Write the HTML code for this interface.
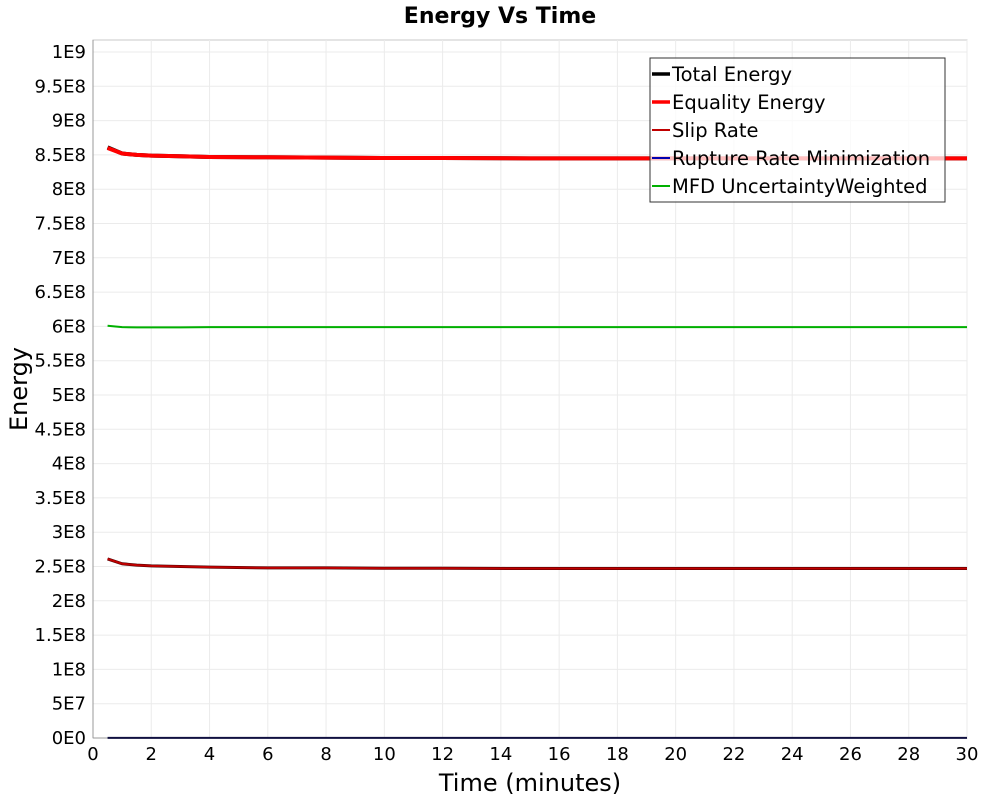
<!DOCTYPE html>
<html><head><meta charset="utf-8"><style>
body{margin:0;background:#fff;}
svg{font-family:"DejaVu Sans","Liberation Sans",sans-serif;}
</style></head><body>
<svg id="chart" width="1000" height="800">
<text x="500" y="23" text-anchor="middle" font-size="22" font-weight="bold">Energy Vs Time</text>
<g id="grid"></g>
<g id="axes"></g>
<g id="series"></g>
<text x="530" y="791" text-anchor="middle" font-size="24">Time (minutes)</text>
<text x="27" y="389" text-anchor="middle" font-size="24" transform="rotate(-90 27 389)">Energy</text>
<g id="legend"></g>
</svg>
<script>
const times=[0.5,1,1.5,2,3,4,6,8,10,12,15,20,25,30];
const totalEnergy=[8.61e8,8.52e8,8.50e8,8.49e8,8.48e8,8.47e8,8.465e8,8.46e8,8.455e8,8.455e8,8.45e8,8.45e8,8.45e8,8.45e8];
const equalityEnergy=[8.60e8,8.52e8,8.50e8,8.49e8,8.48e8,8.47e8,8.465e8,8.46e8,8.455e8,8.455e8,8.45e8,8.45e8,8.45e8,8.45e8];
const slipRate=[2.61e8,2.54e8,2.52e8,2.51e8,2.50e8,2.49e8,2.48e8,2.48e8,2.475e8,2.475e8,2.47e8,2.47e8,2.47e8,2.47e8];
const ruptureRate=[1e5,1e5,1e5,1e5,1e5,1e5,1e5,1e5,1e5,1e5,1e5,1e5,1e5,1e5];
const mfdWeighted=[6.01e8,5.99e8,5.985e8,5.985e8,5.985e8,5.99e8,5.99e8,5.99e8,5.99e8,5.99e8,5.99e8,5.99e8,5.99e8,5.99e8];
const xTicks=[0,2,4,6,8,10,12,14,16,18,20,22,24,26,28,30];
const yTicks=[0,5e7,1e8,1.5e8,2e8,2.5e8,3e8,3.5e8,4e8,4.5e8,5e8,5.5e8,6e8,6.5e8,7e8,7.5e8,8e8,8.5e8,9e8,9.5e8,1e9];
const yTickLabels=["0E0","5E7","1E8","1.5E8","2E8","2.5E8","3E8","3.5E8","4E8","4.5E8","5E8","5.5E8","6E8","6.5E8","7E8","7.5E8","8E8","8.5E8","9E8","9.5E8","1E9"];
const L=93,R=967,T=40,B=738;
const xs=v=>L+(v/30)*(R-L);
const ys=v=>B-(v/1e9)*686;
const NS="http://www.w3.org/2000/svg";
function mk(tag,attrs,parent){const e=document.createElementNS(NS,tag);for(const k in attrs)e.setAttribute(k,attrs[k]);parent.appendChild(e);return e;}
const grid=document.getElementById('grid'),axes=document.getElementById('axes'),series=document.getElementById('series'),legend=document.getElementById('legend');
mk('rect',{x:L,y:T,width:R-L,height:B-T,fill:'#fff',stroke:'#c8c8c8'},grid);
xTicks.forEach(t=>{
  const g=mk('line',{x1:xs(t),x2:xs(t),y1:T,y2:B,stroke:'#ebebeb'},grid);
  
  
  const tx=mk('text',{x:xs(t),y:B+22,'text-anchor':'middle','font-size':18},axes);
  tx.textContent=t;
  
  
});
yTicks.forEach((t,i)=>{
  const g=mk('line',{x1:L,x2:R,y1:ys(t),y2:ys(t),stroke:'#ebebeb'},grid);
  
  
  const tx=mk('text',{x:L-7,y:ys(t)+6,'text-anchor':'end','font-size':18},axes);
  tx.textContent=yTickLabels[i];
  
  
});
mk('line',{x1:L,x2:L,y1:T,y2:B,stroke:'#999'},axes);
mk('line',{x1:L,x2:R,y1:B,y2:B,stroke:'#999'},axes);
const defs=[
 {n:'Total Energy',d:totalEnergy,c:'#000',w:4,id:'total-energy-line'},
 {n:'Equality Energy',d:equalityEnergy,c:'#ff0000',w:4,id:'equality-energy-line'},
 {n:'Slip Rate',d:slipRate,c:'#c00000',w:2,id:'slip-rate-line'},
 {n:'Rupture Rate Minimization',d:ruptureRate,c:'#0000b0',w:2,id:'rupture-rate-line'},
 {n:'MFD UncertaintyWeighted',d:mfdWeighted,c:'#00b000',w:2,id:'mfd-line'}
];
defs.forEach(s=>{
  if(s.n==='Slip Rate'){
    mk('polyline',{points:times.map((t,i)=>xs(t)+','+ys(s.d[i])).join(' '),fill:'none',stroke:'#400','stroke-width':3},series);
  }
  const col=s.n==='Rupture Rate Minimization'?'#101040':s.c;
  const p=mk('polyline',{points:times.map((t,i)=>xs(t)+','+ys(s.d[i])).join(' '),fill:'none',stroke:col,'stroke-width':s.w,'stroke-linejoin':'round'},series);
  
  
});
mk('rect',{x:650,y:58,width:295,height:144,fill:'rgba(255,255,255,0.75)',stroke:'#333'},legend);
defs.forEach((s,i)=>{
  const y=74+i*28;
  mk('line',{x1:652,x2:670,y1:y,y2:y,stroke:s.c,'stroke-width':s.w===4?3.5:2},legend);
  const tx=mk('text',{x:672,y:y+7,'font-size':19.5},legend);
  tx.textContent=s.n;
  
  
});
</script>
</body></html>
